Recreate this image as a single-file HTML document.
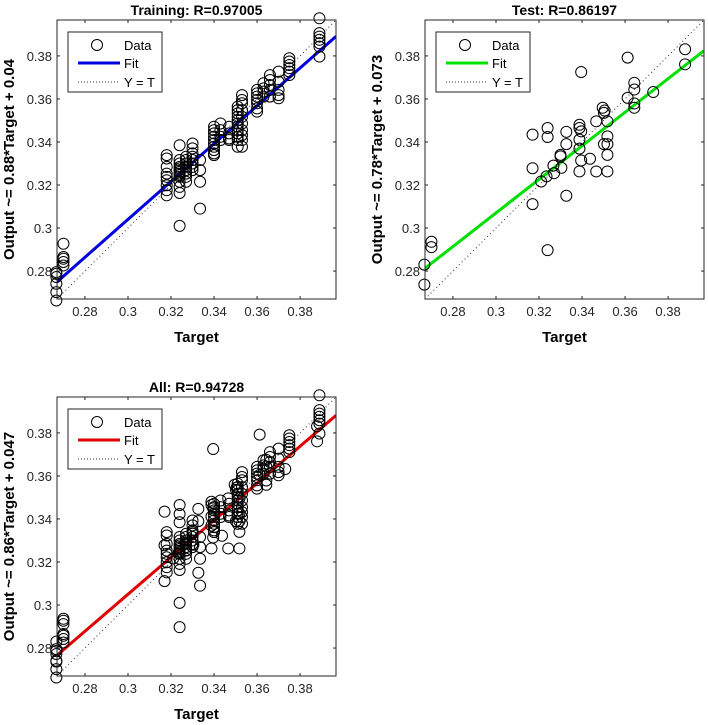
<!DOCTYPE html>
<html><head><meta charset="utf-8"><style>
body{margin:0;background:#fff;}
svg{display:block;font-family:"Liberation Sans",Arial,sans-serif;}
</style></head><body>
<svg id="fig" width="708" height="725" viewBox="0 0 708 725"></svg>
<script>
const ticks=[0.28,0.3,0.32,0.34,0.36,0.38];
const tickLabels=["0.28","0.3","0.32","0.34","0.36","0.38"];
const trainX=[
0.2667,0.2667,0.2667,0.2667,0.2667,0.2667,
0.270,0.270,0.270,0.270,0.270,
0.318,0.318,0.318,0.318,0.318,0.318,0.318,0.318,0.318,
0.324,0.324,0.324,0.324,0.324,0.324,0.324,0.324,0.324,0.324,0.324,0.324,0.324,0.324,
0.327,0.327,0.327,0.327,0.327,0.327,0.327,0.327,
0.330,0.330,0.330,0.330,0.330,0.330,0.330,0.330,
0.3335,0.3335,0.3335,0.3335,
0.340,0.340,0.340,0.340,0.340,0.340,0.340,0.340,0.340,0.340,
0.343,0.343,0.343,0.343,
0.347,0.347,0.347,0.347,
0.351,0.351,0.351,0.351,0.351,0.351,0.351,0.351,0.351,0.351,0.351,0.351,
0.353,0.353,0.353,0.353,0.353,0.353,0.353,0.353,0.353,0.353,
0.360,0.360,0.360,0.360,0.360,0.360,0.360,
0.363,0.363,0.363,0.363,
0.366,0.366,0.366,0.366,0.366,
0.370,0.370,0.370,0.370,0.370,
0.375,0.375,0.375,0.375,0.375,0.375,
0.389,0.389,0.389,0.389,0.389,0.389,0.389];
const trainY=[
0.2663,0.2702,0.2741,0.2772,0.2787,0.2795,
0.2927,0.2865,0.2857,0.2842,0.2826,
0.3339,0.3323,0.3284,0.3253,0.3238,0.3222,0.3199,0.3176,0.3152,
0.3316,0.3300,0.3284,0.3277,0.3269,0.3261,0.3253,0.3246,0.3238,0.3215,0.3191,0.3385,0.3163,0.3010,
0.3331,0.3316,0.3300,0.3284,0.3269,0.3253,0.3238,0.3215,
0.3393,0.3370,0.3347,0.3331,0.3316,0.3300,0.3284,0.3269,
0.3316,0.3269,0.3215,0.3090,
0.3471,0.3455,0.3440,0.3424,0.3409,0.3393,0.3378,0.3362,0.3347,0.3339,
0.3486,0.3455,0.3424,0.3409,
0.3471,0.3440,0.3416,0.3409,
0.3564,0.3548,0.3533,0.3517,0.3502,0.3486,0.3471,0.3455,0.3440,0.3424,0.3409,0.3378,
0.3618,0.3595,0.3580,0.3548,0.3517,0.3486,0.3455,0.3432,0.3409,0.3378,
0.3642,0.3626,0.3611,0.3595,0.3580,0.3556,0.3541,
0.3673,0.3649,0.3634,0.3611,
0.3711,0.3688,0.3665,0.3642,0.3611,
0.3727,0.3680,0.3642,0.3618,0.3603,
0.3789,0.3774,0.3758,0.3743,0.3727,0.3711,
0.3975,0.3906,0.3890,0.3875,0.3859,0.3843,0.3797];
const testX=[0.2667,0.2667,0.270,0.270,0.317,0.317,0.317,0.324,0.324,0.324,0.321,0.3235,0.3267,0.327,0.330,0.330,0.3304,0.3327,0.3327,0.3327,0.3388,0.3388,0.3388,0.3388,0.3388,0.3396,0.3396,0.3396,0.3437,0.3466,0.3466,0.3496,0.3502,0.3505,0.3518,0.3518,0.3518,0.3518,0.3518,0.3502,0.3612,0.3612,0.3643,0.3643,0.3643,0.3643,0.3731,0.3879,0.3879];
const testY=[0.283,0.2737,0.2936,0.2911,0.3111,0.3278,0.3434,0.3465,0.3423,0.2897,0.3216,0.324,0.329,0.3255,0.334,0.3333,0.328,0.3447,0.339,0.315,0.348,0.3465,0.3411,0.3369,0.3263,0.3449,0.3314,0.3725,0.3322,0.3496,0.3263,0.3559,0.3535,0.3546,0.3496,0.3426,0.339,0.334,0.3263,0.339,0.3605,0.3792,0.3675,0.3644,0.3579,0.3559,0.3632,0.3831,0.3761];
const fitTrain=[0.88,0.04], fitTest=[0.78,0.073], fitAll=[0.86,0.047];
const allX=trainX.concat(testX), allY=trainY.concat(testY);

const NS="http://www.w3.org/2000/svg";
const svg=document.getElementById('fig');
const LO=0.267, HI=0.3967;
function mk(tag,attrs,parent){const e=document.createElementNS(NS,tag);for(const k in attrs)e.setAttribute(k,attrs[k]);(parent||svg).appendChild(e);return e;}
function panel(key,L,T,title,ylab,xs,ys,fit,color){
  const S=279;
  const g=mk('g',{});
  
  
  const sx=v=>L+(v-LO)/(HI-LO)*S, sy=v=>T+S-(v-LO)/(HI-LO)*S;
  const bg=mk('rect',{x:L,y:T,width:S,height:S,fill:'#fff'},g);
  
  
  const clip=mk('clipPath',{id:'c'+key},g);mk('rect',{x:L,y:T,width:S,height:S},clip);
  const pg=mk('g',{'clip-path':'url(#c'+key+')'},g);
  const mg=mk('g',{},g);
  for(let i=0;i<xs.length;i++){
    const c=mk('circle',{cx:sx(xs[i]),cy:sy(ys[i]),r:5.5,fill:'none',stroke:'#000','stroke-width':1},mg);
    
    
  }
  const idl=mk('line',{x1:sx(LO),y1:sy(LO),x2:sx(HI),y2:sy(HI),stroke:'#333','stroke-width':1,'stroke-dasharray':'1 3'},pg);
  
  
  const x0=Math.min(...xs), x1=HI;
  const fl=mk('line',{x1:sx(x0),y1:sy(fit[0]*x0+fit[1]),x2:sx(x1),y2:sy(fit[0]*x1+fit[1]),stroke:color,'stroke-width':3},pg);
  
  
  const box=mk('rect',{x:L,y:T,width:S,height:S,fill:'none',stroke:'#262626','stroke-width':1},g);
  
  
  ticks.forEach((t,i)=>{
    const X=sx(t),Y=sy(t);
    mk('line',{x1:X,y1:T+S,x2:X,y2:T+S-3,stroke:'#262626'},g);
    mk('line',{x1:X,y1:T,x2:X,y2:T+3,stroke:'#262626'},g);
    mk('line',{x1:L,y1:Y,x2:L+3,y2:Y,stroke:'#262626'},g);
    mk('line',{x1:L+S,y1:Y,x2:L+S-3,y2:Y,stroke:'#262626'},g);
    const xt=mk('text',{x:X,y:T+S+17,'text-anchor':'middle','font-size':13,fill:'#262626'},g);xt.textContent=tickLabels[i];
    
    
    const yt=mk('text',{x:L-5,y:Y+5,'text-anchor':'end','font-size':13,fill:'#262626'},g);yt.textContent=tickLabels[i];
    
    
  });
  const tt=mk('text',{x:L+S/2,y:T-5,'text-anchor':'middle','font-size':14,'font-weight':'bold'},g);tt.textContent=title;
  
  
  const xl=mk('text',{x:L+S/2,y:T+S+43,'text-anchor':'middle','font-size':15,'font-weight':'bold'},g);xl.textContent='Target';
  
  
  const yl=mk('text',{x:0,y:0,'text-anchor':'middle','font-size':15,'font-weight':'bold',transform:`translate(${L-43},${T+S/2}) rotate(-90)`},g);yl.textContent=ylab;
  
  
  const lg=mk('g',{},g);
  
  
  const lx=L+11, ly=T+12;
  mk('rect',{x:lx,y:ly,width:94,height:60,fill:'#fff',stroke:'#262626'},lg);
  mk('circle',{cx:lx+29,cy:ly+13,r:5.5,fill:'none',stroke:'#000'},lg);
  mk('line',{x1:lx+10,y1:ly+31,x2:lx+52,y2:ly+31,stroke:color,'stroke-width':3},lg);
  mk('line',{x1:lx+10,y1:ly+50,x2:lx+52,y2:ly+50,stroke:'#333','stroke-dasharray':'1 2'},lg);
  [['Data',ly+18],['Fit',ly+36],['Y = T',ly+55]].forEach(([s,y])=>{const t=mk('text',{x:lx+56,y:y,'font-size':13},lg);t.textContent=s;
    
    });
}
panel('training',57,20,'Training: R=0.97005','Output ~= 0.88*Target + 0.04',trainX,trainY,fitTrain,'#0000e0');
panel('test',425,20,'Test: R=0.86197','Output ~= 0.78*Target + 0.073',testX,testY,fitTest,'#00e000');
panel('all',57,397,'All: R=0.94728','Output ~= 0.86*Target + 0.047',allX,allY,fitAll,'#e00000');
</script>
</body></html>
